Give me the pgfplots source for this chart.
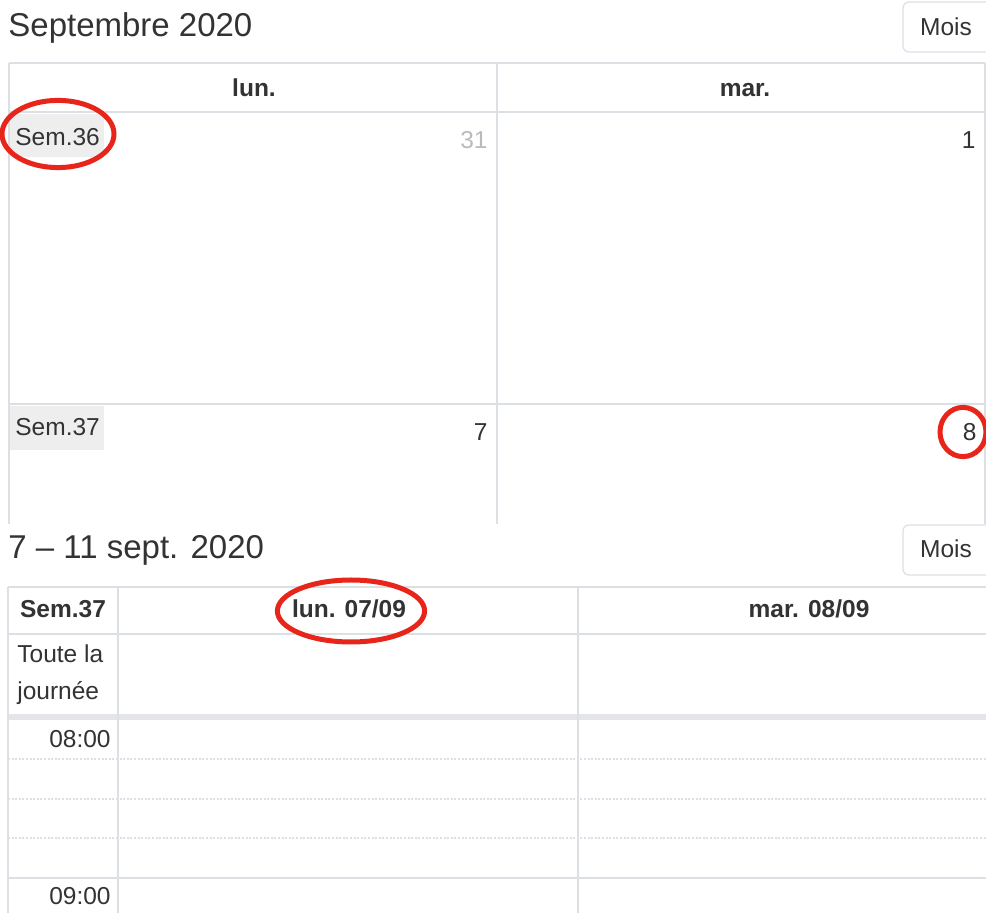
\documentclass[border=0pt]{standalone}
\usepackage{pgfplots}
\pgfplotsset{compat=1.18}
\usepackage{fontspec}
\setmainfont{Liberation Sans}
\definecolor{gridc}{HTML}{DCDFE4}
\definecolor{txt}{HTML}{333333}
\definecolor{hl}{HTML}{E8251A}
\definecolor{sembg}{HTML}{EEEEEE}
\definecolor{light}{HTML}{BBBBBB}
\newcommand\bodyf{\fontsize{12.25}{14}\selectfont}
\newcommand\titlef{\fontsize{16.5}{19}\selectfont}
\begin{document}
\begin{tikzpicture}
\begin{axis}[x=0.5pt, y=0.5pt, xmin=0, xmax=986, ymin=0, ymax=913,
  y dir=reverse, hide axis, clip=true]
\fill[white] (rel axis cs:0,0) rectangle (rel axis cs:1,1);
% ---------- top panel ----------
\node[anchor=base west, text=txt, font=\titlef, inner sep=0] at (axis cs:8,37) {Septembre 2020};
\filldraw[fill=white, draw=gridc, line width=0.6pt, rounded corners=3pt] (axis cs:903,2) rectangle (axis cs:995,52);
\node[anchor=base, text=txt, font=\bodyf, inner sep=0] at (axis cs:946,36) {Mois};
% Sem label backgrounds
\fill[sembg] (axis cs:10,114) rectangle (axis cs:104,157);
\fill[sembg] (axis cs:10,406) rectangle (axis cs:104,450);
% grid lines
\addplot[gridc, line width=1pt] coordinates {(9,63) (985,63)};
\addplot[gridc, line width=1.2pt] coordinates {(9,112) (985,112)};
\addplot[gridc, line width=1pt] coordinates {(9,404) (985,404)};
\addplot[gridc, line width=1pt] coordinates {(9,63) (9,524)};
\addplot[gridc, line width=1pt] coordinates {(497,63) (497,524)};
\addplot[gridc, line width=1pt] coordinates {(985,63) (985,524)};
\node[anchor=base, text=txt, font=\bodyf\bfseries, inner sep=0] at (axis cs:254,97) {lun.};
\node[anchor=base, text=txt, font=\bodyf\bfseries, inner sep=0] at (axis cs:745,97) {mar.};
\node[anchor=base west, text=txt, font=\bodyf, inner sep=0] at (axis cs:15,146) {Sem.36};
\node[anchor=base east, text=light, font=\bodyf, inner sep=0] at (axis cs:488,149) {31};
\node[anchor=base east, text=txt, font=\bodyf, inner sep=0] at (axis cs:976,149) {1};
\node[anchor=base west, text=txt, font=\bodyf, inner sep=0] at (axis cs:15,436) {Sem.37};
\node[anchor=base east, text=txt, font=\bodyf, inner sep=0] at (axis cs:488,441) {7};
\node[anchor=base east, text=txt, font=\bodyf, inner sep=0] at (axis cs:977,441) {8};
% white gap between the two screenshots
\fill[white] (axis cs:0,524) rectangle (axis cs:986,586);
% ---------- bottom panel ----------
\node[anchor=base west, text=txt, font=\titlef, inner sep=0] at (axis cs:8,559) {7 – 11 sept. 2020};
\filldraw[fill=white, draw=gridc, line width=0.6pt, rounded corners=3pt] (axis cs:903,525) rectangle (axis cs:995,575);
\node[anchor=base, text=txt, font=\bodyf, inner sep=0] at (axis cs:946,558) {Mois};
\addplot[gridc, line width=1pt] coordinates {(8,587) (986,587)};
\addplot[gridc, line width=1.2pt] coordinates {(8,634) (986,634)};
\addplot[gridc!80, line width=3pt] coordinates {(8,717) (986,717)};
\addplot[gridc, line width=0.7pt, dash pattern=on 1pt off 0.8pt] coordinates {(8,759) (986,759)};
\addplot[gridc, line width=0.7pt, dash pattern=on 1pt off 0.8pt] coordinates {(8,799) (986,799)};
\addplot[gridc, line width=0.7pt, dash pattern=on 1pt off 0.8pt] coordinates {(8,838) (986,838)};
\addplot[gridc, line width=1pt] coordinates {(8,878) (986,878)};
\addplot[gridc, line width=1pt] coordinates {(8,587) (8,913)};
\addplot[gridc, line width=1pt] coordinates {(118,587) (118,913)};
\addplot[gridc, line width=1pt] coordinates {(578,587) (578,913)};
\node[anchor=base, text=txt, font=\bodyf\bfseries, inner sep=0] at (axis cs:63,618) {Sem.37};
\node[anchor=base, text=txt, font=\bodyf\bfseries, inner sep=0] at (axis cs:349,618) {lun. 07/09};
\node[anchor=base, text=txt, font=\bodyf\bfseries, inner sep=0] at (axis cs:809,618) {mar. 08/09};
\node[anchor=base west, text=txt, font=\bodyf, inner sep=0] at (axis cs:17,663) {Toute la};
\node[anchor=base west, text=txt, font=\bodyf, inner sep=0] at (axis cs:17,700) {journée};
\node[anchor=base east, text=txt, font=\bodyf, inner sep=0] at (axis cs:111,748) {08:00};
\node[anchor=base east, text=txt, font=\bodyf, inner sep=0] at (axis cs:111,905) {09:00};
% ---------- red highlights ----------
\draw[hl, line width=2.5pt] (axis cs:58,134) ellipse [x radius=28pt, y radius=16.8pt];
\draw[hl, line width=2.5pt] (axis cs:963,432) ellipse [x radius=11.5pt, y radius=12.3pt];
\draw[hl, line width=2.5pt] (axis cs:351,611) ellipse [x radius=36.8pt, y radius=15.5pt];
\end{axis}
\end{tikzpicture}
\end{document}
